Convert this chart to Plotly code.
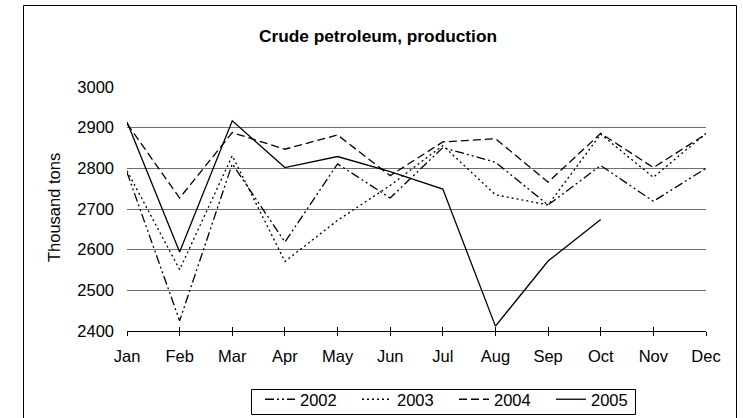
import plotly.graph_objects as go

months = ["Jan", "Feb", "Mar", "Apr", "May", "Jun", "Jul", "Aug", "Sep", "Oct", "Nov", "Dec"]
y2002 = [2790, 2425, 2811, 2619, 2811, 2727, 2851, 2815, 2710, 2807, 2719, 2800]
y2003 = [2794, 2551, 2831, 2571, 2672, 2758, 2856, 2735, 2710, 2884, 2778, 2886]
y2004 = [2910, 2727, 2888, 2847, 2882, 2782, 2865, 2873, 2766, 2886, 2802, 2884]
y2005 = [2914, 2594, 2917, 2802, 2829, 2792, 2749, 2412, 2572, 2674, None, None]
series_names = ["2002", "2003", "2004", "2005"]
y_ticks = [2400, 2500, 2600, 2700, 2800, 2900, 3000]

FONT = "Liberation Sans, Arial, sans-serif"
x_idx = list(range(len(months)))

styles = [
    "9px,3px,2px,3px,2px,3px",
    "2px,3px",
    "8px,4px",
    "solid",
]

fig = go.Figure()
for name, vals, dash in zip(series_names, [y2002, y2003, y2004, y2005], styles):
    fig.add_trace(go.Scatter(
        x=x_idx, y=vals, name=name, mode="lines",
        line=dict(color="black", width=1.3, dash=dash),
        connectgaps=False,
    ))

fig.update_layout(
    width=743, height=418,
    margin=dict(l=127, r=37, t=87, b=87),
    paper_bgcolor="white", plot_bgcolor="white",
    font=dict(family=FONT, size=16.5, color="black"),
    title=dict(text="<b>Crude petroleum, production</b>", x=378 / 743, xref="container",
               xanchor="center", y=1 - 36 / 418, yanchor="middle",
               font=dict(family=FONT, size=17.3, color="black")),
    showlegend=True,
    legend=dict(orientation="h", x=454 / 743, xref="container", xanchor="center",
                y=1 - 382 / 418, yref="container", yanchor="top",
                borderwidth=0, bgcolor="rgba(0,0,0,0)",
                font=dict(family=FONT, size=16.5, color="black"),
                entrywidth=52, entrywidthmode="pixels", tracegroupgap=0),
    xaxis=dict(range=[0, 11], tickmode="array", tickvals=x_idx, ticktext=months,
               showgrid=False, zeroline=False, showline=True, linecolor="black", linewidth=1,
               ticks="outside", ticklen=4, tickcolor="black", tickwidth=1,
               ticklabelstandoff=6, fixedrange=True),
    xaxis2=dict(range=[0, 11], tickmode="array", tickvals=x_idx, ticktext=[""] * 12,
                overlaying="x", side="bottom", anchor="y",
                showgrid=False, zeroline=False, showline=False,
                ticks="inside", ticklen=4, tickcolor="black", tickwidth=1, showticklabels=False),
    yaxis=dict(range=[2400, 3000], tickmode="array", tickvals=y_ticks,
               showgrid=True, gridcolor="#6f6f6f", gridwidth=1,
               zeroline=False, showline=False, ticks="", ticklabelstandoff=12, fixedrange=True),
)

# dummy trace to activate xaxis2
fig.add_trace(go.Scatter(x=[0], y=[None], xaxis="x2", showlegend=False, hoverinfo="skip"))

fig.add_annotation(text="Thousand tons", textangle=-90, xref="paper", yref="paper",
                   x=(54 - 127) / 579, y=(331 - 208) / 244, xanchor="center", yanchor="middle",
                   showarrow=False, font=dict(family=FONT, size=16.5, color="black"))

# outer chart border
fig.add_shape(type="rect", xref="paper", yref="paper",
              x0=(23.5 - 127) / 579, x1=(736.5 - 127) / 579,
              y0=(331 - 430) / 244, y1=(331 - 5.5) / 244,
              line=dict(color="black", width=1), fillcolor="rgba(0,0,0,0)", layer="below")
# legend box
fig.add_shape(type="rect", xref="paper", yref="paper",
              x0=(251.5 - 127) / 579, x1=(635.5 - 127) / 579,
              y0=(331 - 414.5) / 244, y1=(331 - 389.5) / 244,
              line=dict(color="black", width=1), fillcolor="rgba(0,0,0,0)", layer="below")

fig.write_html("out.html", config={"displayModeBar": False, "staticPlot": True},
               post_script="document.body.style.margin='0';document.body.style.overflow='hidden';")
